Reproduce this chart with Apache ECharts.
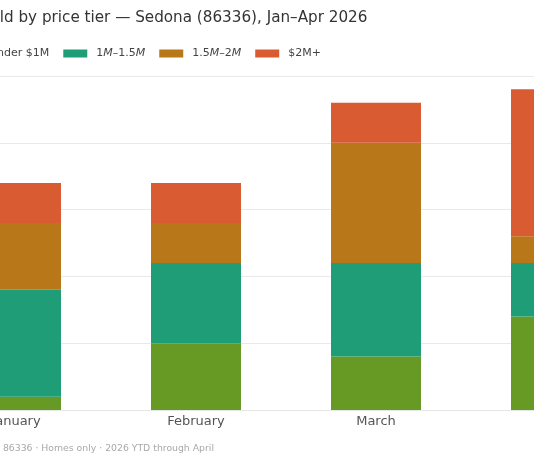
<!DOCTYPE html>
<html>
<head>
<meta charset="utf-8">
<script src="https://cdn.jsdelivr.net/npm/echarts@6/dist/echarts.min.js"></script>
<style>
  html, body { margin: 0; padding: 0; overflow: hidden; background: #fff; }
  #wrap { position: relative; width: 534px; height: 462px; overflow: hidden; }
  /* the reference is a crop of a wider figure, so the chart is shifted left */
  #chart { position: absolute; left: -124px; top: 0; width: 874px; height: 462px; }
</style>
</head>
<body>
<div id="wrap"><div id="chart"></div></div>
<script>
var months = ['January', 'February', 'March', 'April'];
var tierNames = ['Under $1M', '1M–1.5M', '1.5M–2M', '$2M+'];
var under1M = [1, 5, 4, 7];
var m1to15 = [8, 6, 7, 4];
var m15to2 = [5, 3, 9, 2];
var over2M = [3, 3, 3, 11];
var yTicks = { min: 0, max: 25, interval: 5 };
var colors = ['#679a24', '#1f9d77', '#b87718', '#d85b32'];

var chart = echarts.init(document.getElementById('chart'));
var font = 'DejaVu Sans';
var tierData = [under1M, m1to15, m15to2, over2M];

var series = tierNames.map(function (name, i) {
    return {
        name: name,
        type: 'bar',
        stack: 'total',
        barWidth: '50%',
        data: tierData[i],
        itemStyle: { color: colors[i] }
    };
});

var option = {
    animation: false,
    textStyle: { fontFamily: font },
    title: {
        text: 'Homes sold by price tier — Sedona (86336), Jan–Apr 2026',
        left: 44,
        top: 6,
        textStyle: { fontFamily: font, fontSize: 15.2, fontWeight: 'normal', color: '#333' }
    },
    legend: {
        data: tierNames,
        left: 75,
        top: 43,
        icon: 'rect',
        itemWidth: 24,
        itemHeight: 8,
        itemGap: 14,
        // the middle tiers had their M set in italics
        formatter: function (name) {
            if (name.charAt(0) === '$' || name.indexOf('Under') === 0) return name;
            return name.replace(/M/g, '{i|M}');
        },
        textStyle: {
            fontFamily: font, fontSize: 11, color: '#444', fontStyle: 'normal', padding: [0, 0, 0, 4],
            rich: { i: { fontFamily: font, fontSize: 11, color: '#444', fontStyle: 'italic' } }
        }
    },
    grid: { left: 50, right: 104, top: 76, bottom: 52 },
    xAxis: {
        type: 'category',
        data: months,
        axisTick: { show: false },
        axisLine: { lineStyle: { color: '#e6e6e6' } },
        axisLabel: { fontFamily: font, fontSize: 13, color: '#555', margin: 5 }
    },
    yAxis: {
        type: 'value',
        min: yTicks.min,
        max: yTicks.max,
        interval: yTicks.interval,
        axisLine: { show: false },
        axisTick: { show: false },
        axisLabel: { fontFamily: font, fontSize: 11, color: '#555' },
        splitLine: { lineStyle: { color: '#e9e9e9' } }
    },
    graphic: [{
        type: 'text',
        left: 53,
        top: 444,
        style: {
            text: 'Data: MLS · ZIP 86336 · Homes only · 2026 YTD through April',
            font: '9.3px "DejaVu Sans"',
            fill: '#a8a8a8'
        }
    }],
    series: series
};

chart.setOption(option);
</script>
</body>
</html>
